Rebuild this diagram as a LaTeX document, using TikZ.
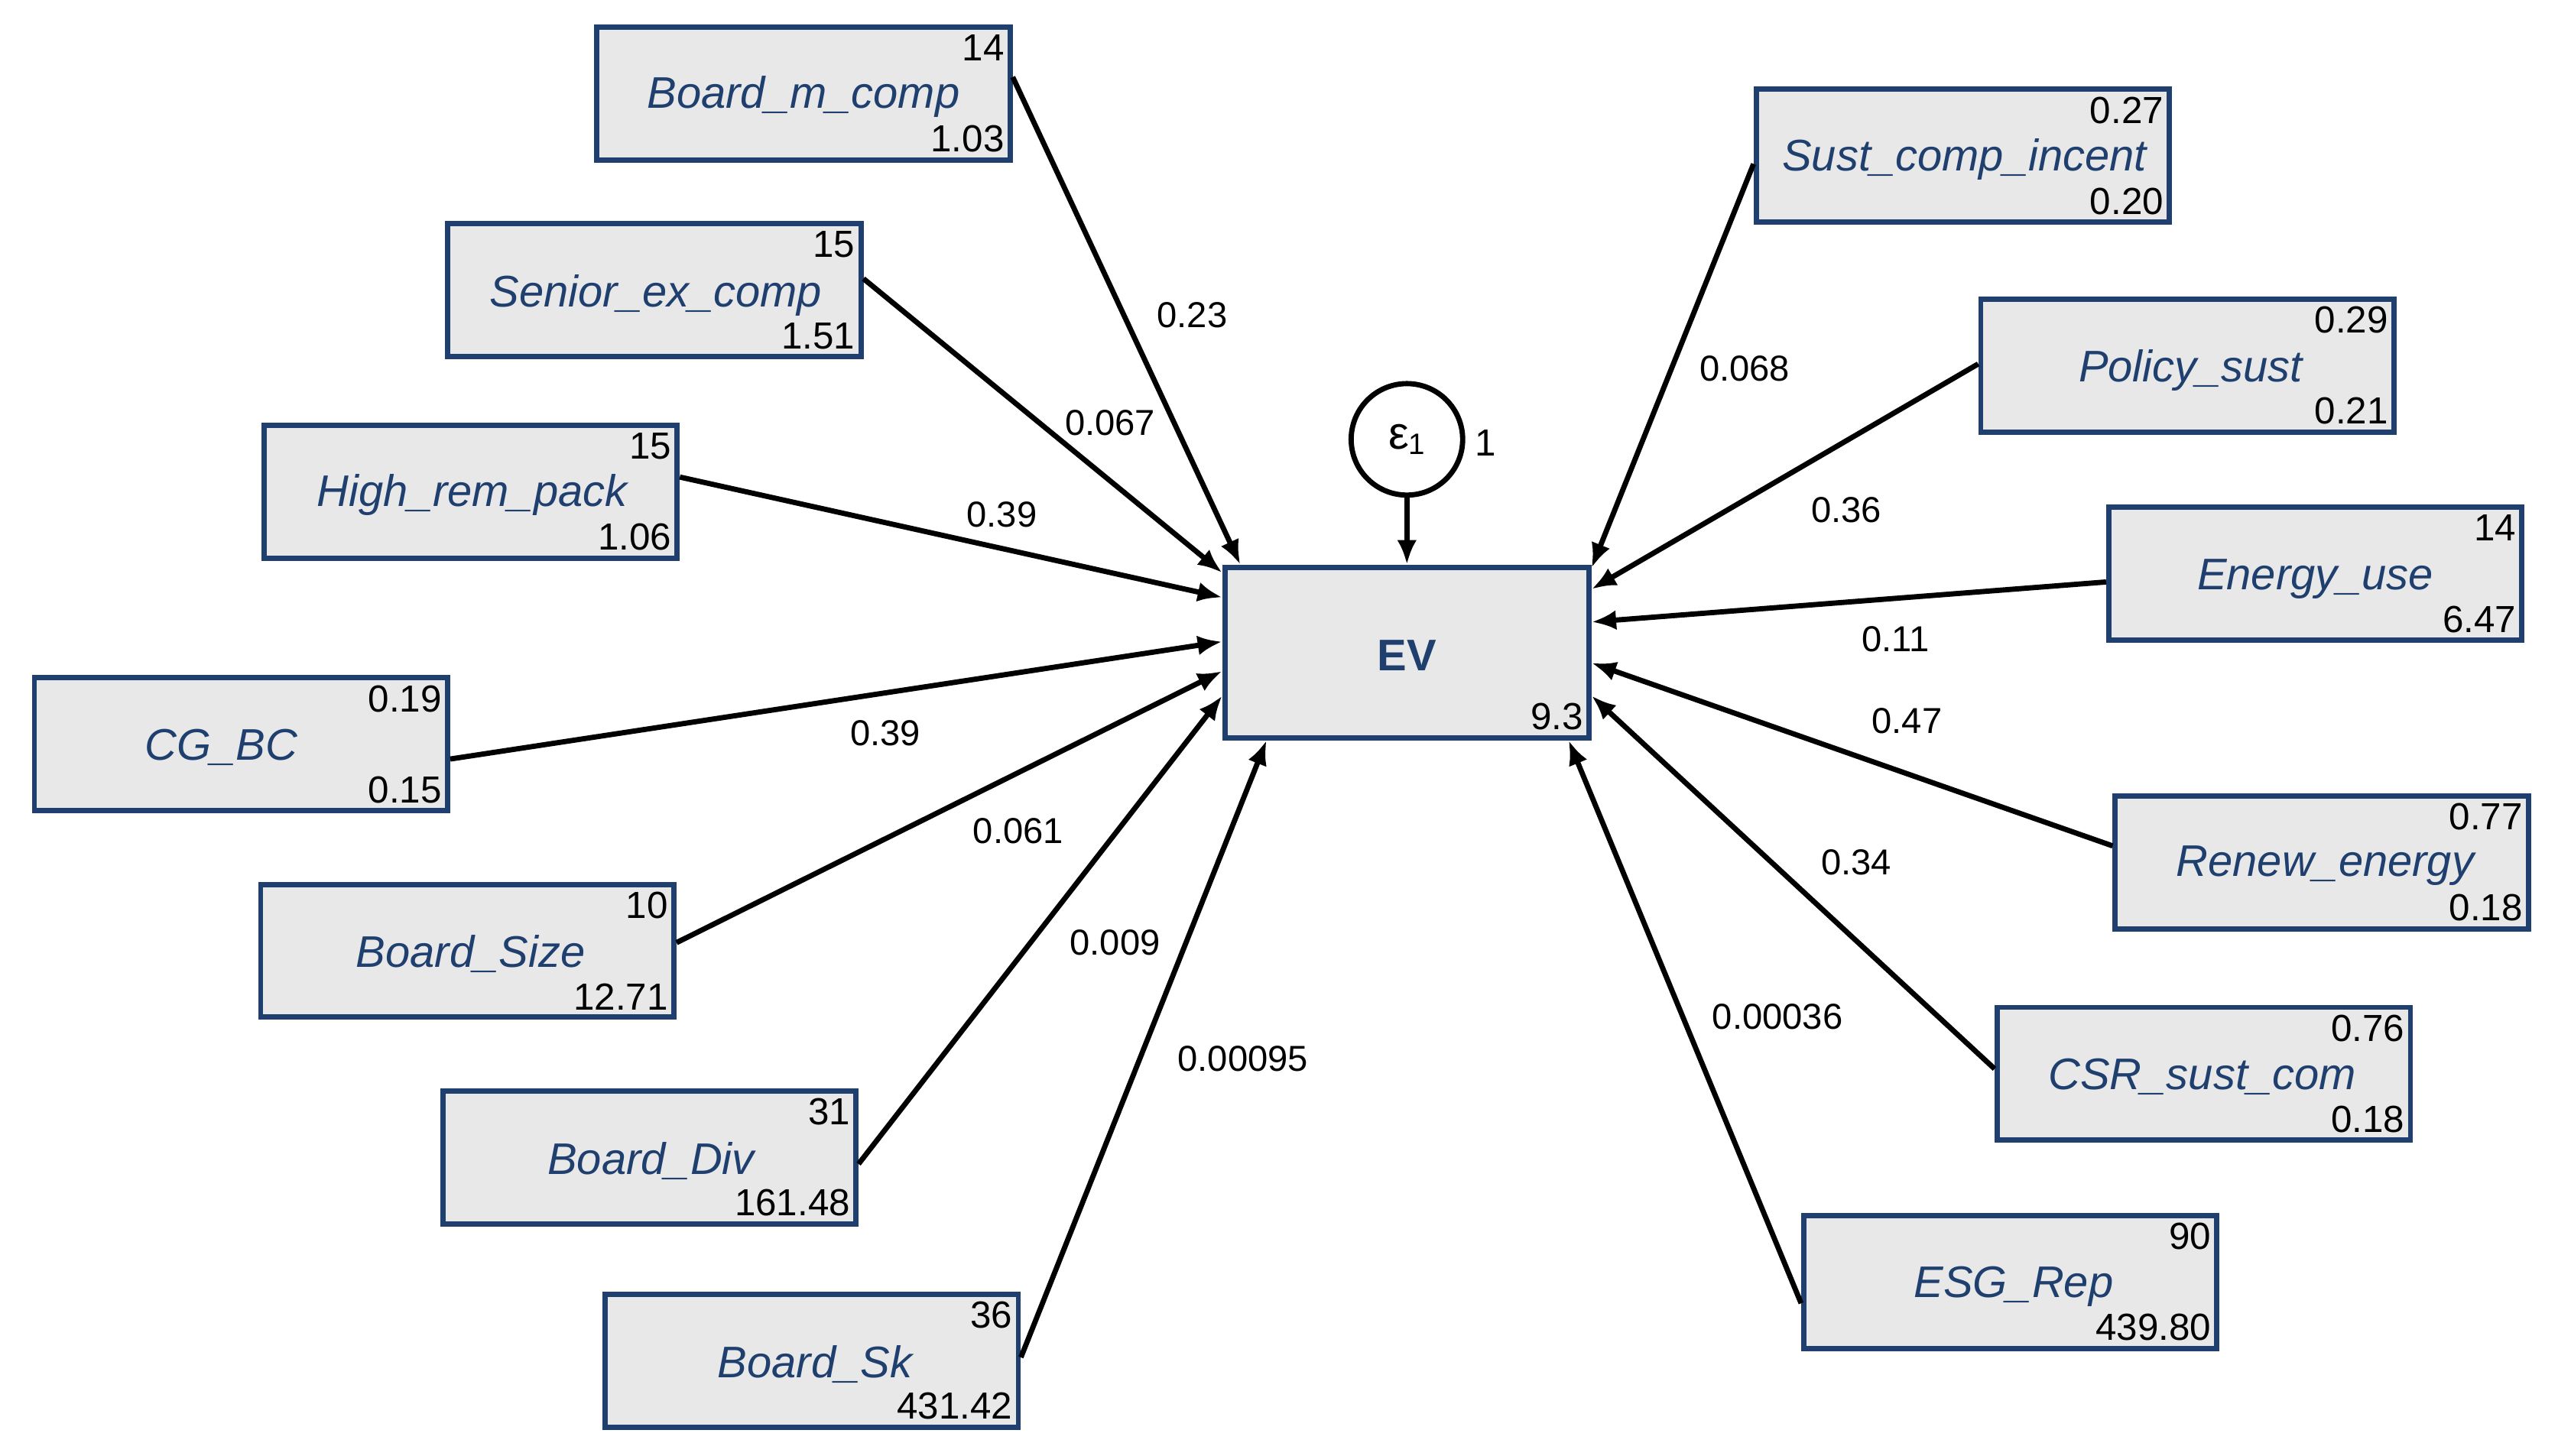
\documentclass[tikz,border=0pt]{standalone}
\usepackage{fontspec}
\setmainfont{Liberation Sans}
\usetikzlibrary{arrows.meta,calc}
\definecolor{bl}{HTML}{1F3F6F}
\definecolor{bx}{HTML}{E8E8E8}
\begin{document}
\begin{tikzpicture}[x=1pt,y=-1pt,
 box/.style={draw=bl,fill=bx,line width=3.2pt,minimum width=252pt,minimum height=81pt,inner sep=0pt},
 nm/.style={text=bl,font=\fontsize{27}{27}\selectfont\itshape},
 num/.style={font=\fontsize{23}{23}\selectfont,inner xsep=5pt,inner ysep=6pt},
 el/.style={font=\fontsize{22}{22}\selectfont,inner sep=1pt},
 ar/.style={line width=3.2pt,-{Latex[length=15pt,width=12pt]}}]
\useasboundingbox (0,0) rectangle (1560,888);
\newcommand\bbox[8]{% name, cx, cy, text, tx, ty, top, bottom
 \node[box] (#1) at (#2,#3) {};
 \node[nm] (#1t) at (#5,#6) {#4};
 \node[num,anchor=north east] (#1a) at (#1.north east) {#7};
 \node[num,anchor=south east] (#1b) at (#1.south east) {#8};}
\node[draw=bl,fill=bx,line width=3.2pt,minimum width=222pt,minimum height=104pt,inner sep=0pt] (ev) at (858,398) {};
\node[text=bl,font=\fontsize{27}{27}\selectfont\bfseries] (evt) at (858,400) {EV};
\node[num,anchor=south east] (evb) at (ev.south east) {9.3};
\node[draw,circle,line width=3.2pt,minimum size=68pt,inner sep=0pt,font=\fontsize{28}{28}\selectfont] (eps) at (858,268) {ε\raisebox{-3pt}{\fontsize{18}{18}\selectfont 1}};
\node[num] (one) at (906,270) {1};
\draw[ar] (eps) -- (ev);
\bbox{bmc}{490}{57}{Board\_m\_comp}{490}{59}{14}{1.03}
\bbox{sec}{399}{177}{Senior\_ex\_comp}{400}{180}{15}{1.51}
\bbox{hrp}{287}{300}{High\_rem\_pack}{288}{302}{15}{1.06}
\bbox{cg}{147}{454}{CG\_BC}{135}{456}{0.19}{0.15}
\bbox{bs}{285}{580}{Board\_Size}{287}{582}{10}{12.71}
\bbox{bd}{396}{706}{Board\_Div}{397}{708}{31}{161.48}
\bbox{bk}{495}{830}{Board\_Sk}{497}{832}{36}{431.42}
\bbox{sci}{1197}{95}{Sust\_comp\_incent}{1198}{97}{0.27}{0.20}
\bbox{ps}{1334}{223}{Policy\_sust}{1336}{226}{0.29}{0.21}
\bbox{eu}{1412}{350}{Energy\_use}{1412}{353}{14}{6.47}
\bbox{re}{1416}{526}{Renew\_energy}{1418}{528}{0.77}{0.18}
\bbox{csr}{1344}{655}{CSR\_sust\_com}{1343}{657}{0.76}{0.18}
\bbox{esg}{1226}{782}{ESG\_Rep}{1228}{785}{90}{439.80}
\draw[ar] ($(bmc.east)+(0,-10)$) -- ($(ev.north west)+(11,0)$);
\draw[ar] ($(sec.east)+(0,-7)$) -- ($(ev.north west)+(0,5)$);
\draw[ar] ($(hrp.east)+(0,-9)$) -- ($(ev.north west)+(0,20)$);
\draw[ar] ($(cg.east)+(0,9)$) -- ($(ev.north west)+(0,47)$);
\draw[ar] ($(bs.east)+(0,-5)$) -- ($(ev.north west)+(0,65)$);
\draw[ar] ($(bd.east)+(0,4)$) -- ($(ev.north west)+(0,80)$);
\draw[ar] ($(bk.east)+(0,-2)$) -- ($(ev.south west)+(27,0)$);
\draw[ar] ($(sci.west)+(0,5)$) -- ($(ev.north east)+(0,2)$);
\draw[ar] ($(ps.west)+(0,-1)$) -- ($(ev.north east)+(0,15)$);
\draw[ar] ($(eu.west)+(0,5)$) -- ($(ev.north east)+(0,35)$);
\draw[ar] ($(re.west)+(0,-10)$) -- ($(ev.north east)+(0,60)$);
\draw[ar] ($(csr.west)+(0,-3)$) -- ($(ev.north east)+(0,80)$);
\draw[ar] ($(esg.west)+(0,13)$) -- ($(ev.south east)+(-14,0)$);
\node[el] (l1) at (727,192) {0.23};
\node[el] (l2) at (677,258) {0.067};
\node[el] (l3) at (611,314) {0.39};
\node[el] (l4) at (540,447) {0.39};
\node[el] (l5) at (621,507) {0.061};
\node[el] (l6) at (680,575) {0.009};
\node[el] (l7) at (758,646) {0.00095};
\node[el] (l8) at (1064,225) {0.068};
\node[el] (l9) at (1126,311) {0.36};
\node[el] (l10) at (1156,390) {0.11};
\node[el] (l11) at (1163,440) {0.47};
\node[el] (l12) at (1132,526) {0.34};
\node[el] (l13) at (1084,620) {0.00036};
\end{tikzpicture}
\end{document}
